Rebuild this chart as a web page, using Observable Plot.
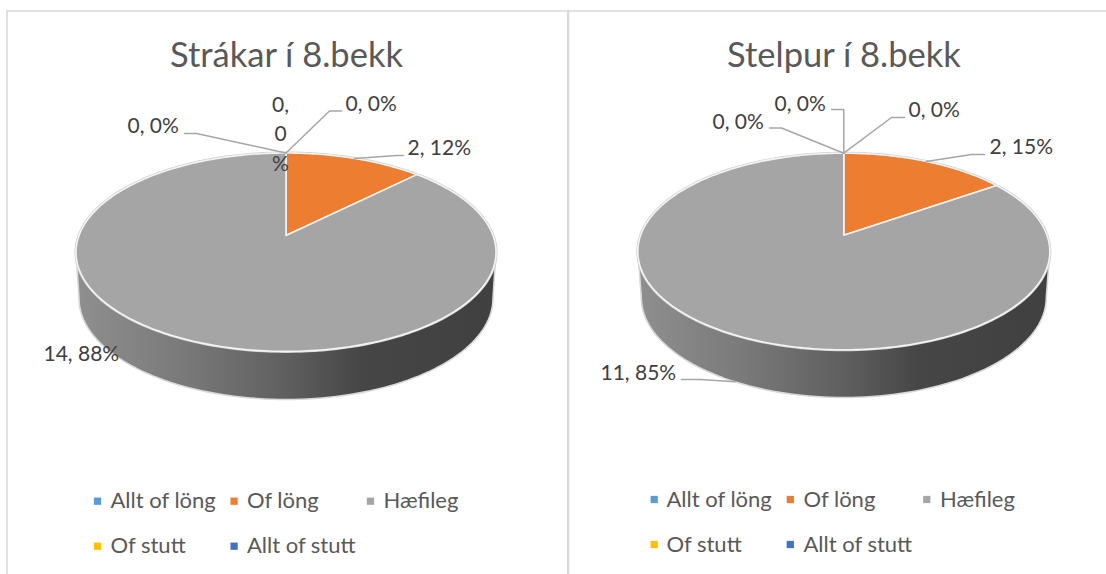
<!DOCTYPE html>
<html lang="is">
<head>
<meta charset="utf-8">
<title>Strákar og stelpur í 8.bekk</title>
<script src="https://cdn.jsdelivr.net/npm/d3@7"></script>
<script src="https://cdn.jsdelivr.net/npm/@observablehq/plot@0.6"></script>
<style>
  html, body { margin: 0; padding: 0; background: #fff; }
  #page { position: relative; width: 1106px; height: 574px; overflow: hidden; }
  #page svg { position: absolute; top: 0; display: block; background: transparent; }
</style>
</head>
<body>
<div id="page"></div>
<script>
// ---------- data ----------
const categories = ["Allt of löng", "Of löng", "Hæfileg", "Of stutt", "Allt of stutt"];
const categoryColors = ["#5B9BD5", "#ED7D31", "#A5A5A5", "#FFC000", "#4472C4"];
const boysTitle = "Strákar í 8.bekk";
const girlsTitle = "Stelpur í 8.bekk";
const boysValues = [0, 2, 14, 0, 0];
const girlsValues = [0, 2, 11, 0, 0];
const boysPercents = [0, 12, 88, 0, 0];
const girlsPercents = [0, 15, 85, 0, 0];

// ---------- layout ----------
const FONT = "Lato, 'Noto Sans', sans-serif";
const boysLayout = {
  left: 0, right: 567, gradient: "wallBoys",
  titleX: 286, titleY: 55,
  top: {cx: 285.5, cy: 251.7, rx: 210, ry: 99.2},
  bottom: {cx: 285.5, cy: 298, ry: 101, rx: 207},
  tilt: 0.168,
  labels: [
    {x: 345, y: 104, anchor: "start", via: [[329, 110.5], [341, 110.5]]},
    {x: 407, y: 148, anchor: "start", via: [[396, 155], [403, 155]]},
    {x: 43, y: 354, anchor: "start"},
    {x: 127, y: 126, anchor: "start", via: [[196, 133], [184, 133]]},
    {x: 280, y: 131.5, anchor: "middle", wrap: true}
  ],
  legendSwatchX: [97, 233.6, 370], legendTextX: [110, 246.4, 383], legendY: [500.7, 545.7]
};
const girlsLayout = {
  left: 567, right: 1106, gradient: "wallGirls",
  titleX: 843.4, titleY: 55,
  top: {cx: 843.3, cy: 251, rx: 206, ry: 98.3},
  bottom: {cx: 843.3, cy: 297, ry: 100, rx: 202.5},
  tilt: 0.166,
  labels: [
    {x: 908, y: 110, anchor: "start", via: [[891, 117], [904, 117]]},
    {x: 989, y: 147, anchor: "start", via: [[971, 154], [984, 154]]},
    {x: 600, y: 372.7, anchor: "start", onWall: true, via: [[700, 379], [681, 379]]},
    {x: 712, y: 122, anchor: "start", via: [[781, 127.5], [769, 127.5]]},
    {x: 774, y: 104, anchor: "start", via: [[843.3, 109], [831, 109]]}
  ],
  legendSwatchX: [653.7, 789.8, 926.3], legendTextX: [666, 803, 939.5], legendY: [499, 544]
};

// A true pie angle (clockwise from 12 o'clock) seen in perspective on an ellipse.
function project(theta, e, k) {
  const u = Math.sin(theta), v = Math.cos(theta), d = 1 + k * v;
  const up = u * Math.sqrt(1 - k * k) / d, vp = (v + k) / d;
  return [e.cx + e.rx * up, e.cy - e.ry * vp];
}
const ellipsePoint = (t, e) => [e.cx + e.rx * Math.sin(t), e.cy - e.ry * Math.cos(t)];
const rad = (deg) => deg * Math.PI / 180;

function panel(title, values, percents, L) {
  const arcs = d3.pie().sort(null).value((d) => d)(values);
  const k = L.tilt, T = L.top, B = L.bottom;

  // slices (perspective top face)
  const slicePts = [];
  arcs.forEach((a, i) => {
    if (values[i] === 0) return;
    slicePts.push({x: T.cx, y: T.cy - T.ry * k, cat: categories[i]});
    const n = Math.max(2, Math.ceil((a.endAngle - a.startAngle) / rad(1)));
    for (let j = 0; j <= n; ++j) {
      const [x, y] = project(a.startAngle + (a.endAngle - a.startAngle) * j / n, T, k);
      slicePts.push({x, y, cat: categories[i]});
    }
  });

  // wall (front side of the drum)
  const wall = [], wallEdge = [];
  const [lx, ly] = ellipsePoint(rad(270), T), [rxx, ryy] = ellipsePoint(rad(90), T);
  for (let d = 90; d <= 270; d += 2) { const [x, y] = ellipsePoint(rad(d), T); wall.push({x, y}); }
  wallEdge.push({x: lx, y: ly});
  for (let d = 270; d >= 90; d -= 2) { const [x, y] = ellipsePoint(rad(d), B); wall.push({x, y}); wallEdge.push({x, y}); }
  wallEdge.push({x: rxx, y: ryy});
  const rim = d3.range(0, 361, 2).map((d) => { const [x, y] = ellipsePoint(rad(d), T); return {x, y}; });

  // leader lines start from the middle of each slice on the rim
  const leaders = [];
  arcs.forEach((a, i) => {
    const lab = L.labels[i];
    if (!lab.via) return;
    const mid = (a.startAngle + a.endAngle) / 2;
    const start = project(mid, lab.onWall ? B : T, k);
    [start, ...lab.via].forEach(([x, y]) => leaders.push({x, y, i}));
  });

  const labelRows = arcs.map((a, i) => {
    const base = `${values[i]}, ${percents[i]}%`;
    return {...L.labels[i], text: L.labels[i].wrap ? base.replace(", ", ",\n").replace(/(\d+)%$/, "$1\n%") : base};
  });

  const legendRows = categories.map((c, i) => ({
    cat: c,
    sx: L.legendSwatchX[i % 3],
    tx: L.legendTextX[i % 3],
    y: L.legendY[Math.floor(i / 3)]
  }));

  const w = L.right - L.left;
  const edge = "#d9d9d9";
  const defs = () => {
    const s = d3.create("svg:defs");
    const g = s.append("linearGradient").attr("id", L.gradient);
    [[0, "#8f8f8f"], [0.25, "#7a7a7a"], [0.5, "#5f5f5f"], [0.68, "#464646"], [1, "#404040"]]
      .forEach(([o, c]) => g.append("stop").attr("offset", o).attr("stop-color", c));
    return s.node();
  };

  const plot = Plot.plot({
    width: w, height: 574,
    margin: 0,
    style: {fontFamily: FONT, background: "transparent"},
    x: {domain: [L.left, L.right], range: [0, w], axis: null},
    y: {domain: [0, 574], range: [0, 574], axis: null},
    color: {domain: categories, range: categoryColors},
    marks: [
      defs,
      // chart frame
      Plot.ruleY([10.5], {x1: L.left === 0 ? 6.5 : 567, x2: L.right, stroke: edge, strokeWidth: 1.5}),
      L.left === 0
        ? Plot.ruleX([6.5], {y1: 10, y2: 574, stroke: edge, strokeWidth: 1.5})
        : Plot.ruleX([567.5], {y1: 10, y2: 574, stroke: edge, strokeWidth: 2.5}),
      // drum
      Plot.line(wall, {x: "x", y: "y", fill: `url(#${L.gradient})`, stroke: "none", curve: "linear-closed"}),
      Plot.line(wallEdge, {x: "x", y: "y", stroke: edge, strokeWidth: 1.6}),
      Plot.line(rim, {x: "x", y: "y", stroke: "#cfcfcf", strokeWidth: 3}),
      // slices
      Plot.line(slicePts, {x: "x", y: "y", z: "cat", fill: "cat", stroke: "#f4f4f4", strokeWidth: 1.6, strokeLinejoin: "round", curve: "linear-closed"}),
      // leader lines
      Plot.line(leaders, {x: "x", y: "y", z: "i", stroke: "#a6a6a6", strokeWidth: 1.5, curve: "linear"}),
      // data labels
      Plot.text(labelRows, {x: "x", y: "y", text: "text", textAnchor: "start", filter: (d) => d.anchor === "start",
        fill: "#404040", fontSize: 21, lineAnchor: "middle"}),
      Plot.text(labelRows, {x: "x", y: "y", text: "text", textAnchor: "middle", filter: (d) => d.anchor === "middle",
        fill: "#404040", fontSize: 21, lineAnchor: "middle", lineHeight: 1.41}),
      // title
      Plot.text([title], {x: L.titleX, y: L.titleY, text: (d) => d, fill: "#595959", fontSize: 34.5, textAnchor: "middle", lineAnchor: "middle"}),
      // legend
      Plot.dot(legendRows, {x: "sx", y: "y", fill: "cat", symbol: "square", r: 4.1, stroke: "none"}),
      Plot.text(legendRows, {x: "tx", y: "y", text: "cat", fill: "#595959", fontSize: 22, textAnchor: "start", lineAnchor: "middle"})
    ]
  });
  plot.style.left = L.left + "px";
  return plot;
}

const page = document.getElementById("page");
page.append(panel(boysTitle, boysValues, boysPercents, boysLayout));
page.append(panel(girlsTitle, girlsValues, girlsPercents, girlsLayout));
</script>
</body>
</html>
